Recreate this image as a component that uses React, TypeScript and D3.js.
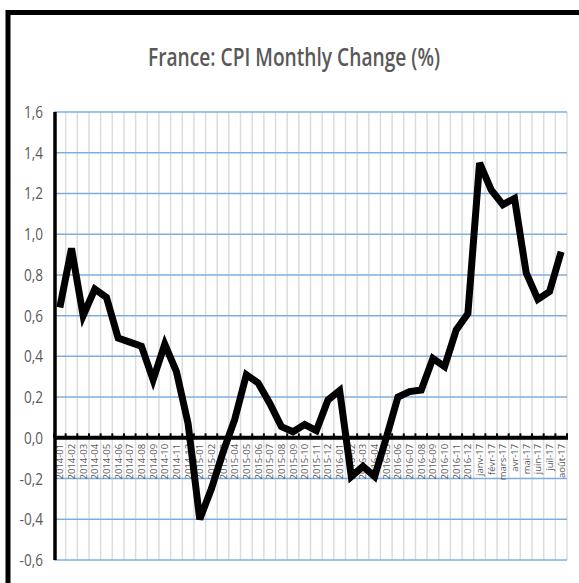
import React, { useEffect, useRef } from 'react';
import * as d3 from 'd3';

const months = [
  '2014-01', '2014-02', '2014-03', '2014-04', '2014-05', '2014-06', '2014-07', '2014-08', '2014-09', '2014-10', '2014-11', '2014-12',
  '2015-01', '2015-02', '2015-03', '2015-04', '2015-05', '2015-06', '2015-07', '2015-08', '2015-09', '2015-10', '2015-11', '2015-12',
  '2016-01', '2016-02', '2016-03', '2016-04', '2016-05', '2016-06', '2016-07', '2016-08', '2016-09', '2016-10', '2016-11', '2016-12',
  'janv-17', 'févr-17', 'mars-17', 'avr-17', 'mai-17', 'juin-17', 'juil-17', 'août-17',
];

const cpiChange = [
  0.64, 0.93, 0.6, 0.73, 0.69, 0.49, 0.47, 0.45, 0.285, 0.46, 0.325, 0.07,
  -0.4, -0.25, -0.07, 0.09, 0.31, 0.27, 0.17, 0.055, 0.03, 0.065, 0.035, 0.186,
  0.232, -0.19, -0.14, -0.19, 0.0, 0.2, 0.227, 0.235, 0.39, 0.35, 0.53, 0.61,
  1.35, 1.217, 1.145, 1.176, 0.81, 0.68, 0.718, 0.914,
];

const yTicks = [-0.6, -0.4, -0.2, 0, 0.2, 0.4, 0.6, 0.8, 1.0, 1.2, 1.4, 1.6];

const App = () => {
  const svgRef = useRef(null);

  useEffect(() => {
    const width = 579;
    const height = 583;
    const margin = { top: 112, right: 12, bottom: 23, left: 54 };

    const svg = d3.select(svgRef.current);
    svg.selectAll('*').remove();

    // frame, cut off on the right and bottom like the screenshot
    svg.append('rect')
      .attr('x', 8).attr('y', 12.5)
      .attr('width', width + 20).attr('height', height + 20)
      .attr('fill', '#fff').attr('stroke', '#000').attr('stroke-width', 5);

    svg.append('text')
      .attr('x', 294).attr('y', 66)
      .attr('text-anchor', 'middle')
      .attr('font-family', 'Open Sans, sans-serif')
      .attr('font-size', 26)
      .attr('font-weight', 600)
      .attr('fill', '#595959')
      .attr('textLength', 292)
      .attr('lengthAdjust', 'spacingAndGlyphs')
      .text('France: CPI Monthly Change (%)');

    const x = d3.scaleBand()
      .domain(months)
      .range([margin.left, width - margin.right]);

    const y = d3.scaleLinear()
      .domain([-0.6, 1.6])
      .range([height - margin.bottom, margin.top]);

    // vertical grey gridlines at category boundaries
    const bounds = months.map((m) => x(m)).concat([x.range()[1]]);
    svg.append('g')
      .selectAll('line')
      .data(bounds.slice(1))
      .enter()
      .append('line')
      .attr('x1', (d) => d).attr('x2', (d) => d)
      .attr('y1', y(1.6)).attr('y2', y(-0.6))
      .attr('stroke', '#dcdcdc').attr('stroke-width', 1.5);

    // horizontal blue gridlines
    svg.append('g')
      .selectAll('line')
      .data(yTicks.filter((t) => t !== 0))
      .enter()
      .append('line')
      .attr('x1', margin.left).attr('x2', width - margin.right)
      .attr('y1', (d) => y(d)).attr('y2', (d) => y(d))
      .attr('stroke', '#7eaee0').attr('stroke-width', 1.5);

    // y tick labels
    svg.append('g')
      .selectAll('text')
      .data(yTicks)
      .enter()
      .append('text')
      .attr('transform', (d) => `translate(43, ${y(d) + 6}) scale(0.8, 1)`)
      .attr('text-anchor', 'end')
      .attr('font-family', 'Open Sans, sans-serif')
      .attr('font-size', 17)
      .attr('fill', '#595959')
      .text((d) => d3.format('.1f')(d).replace('.', ',').replace('−', '-'));

    // x labels, rotated, just below the zero line
    svg.append('g')
      .selectAll('text')
      .data(months)
      .enter()
      .append('text')
      .attr('transform', (d) => `translate(${x(d) + x.bandwidth() / 2 + 3.5}, ${y(0) + 6}) rotate(-90)`)
      .attr('text-anchor', 'end')
      .attr('font-family', 'Open Sans, sans-serif')
      .attr('font-size', 9.5)
      .attr('fill', '#595959')
      .text((d) => d);

    // zero axis with upward ticks
    const zeroAxis = svg.append('g')
      .attr('transform', `translate(0, ${y(0)})`);
    zeroAxis.selectAll('line.tk')
      .data(bounds)
      .enter()
      .append('line')
      .attr('class', 'tk')
      .attr('x1', (d) => d).attr('x2', (d) => d)
      .attr('y1', 0).attr('y2', -4.5)
      .attr('stroke', '#000').attr('stroke-width', 2);
    zeroAxis.append('line')
      .attr('x1', margin.left).attr('x2', width - margin.right + 1)
      .attr('stroke', '#000').attr('stroke-width', 4);

    // y axis line
    svg.append('line')
      .attr('x1', margin.left + 1).attr('x2', margin.left + 1)
      .attr('y1', y(1.6)).attr('y2', y(-0.6))
      .attr('stroke', '#000').attr('stroke-width', 3.5);

    const line = d3.line<number>()
      .x((d, i) => x(months[i]) + x.bandwidth() / 2)
      .y((d) => y(d));

    svg.append('path')
      .datum(cpiChange)
      .attr('d', line)
      .attr('fill', 'none')
      .attr('stroke', '#000')
      .attr('stroke-width', 7)
      .attr('stroke-linejoin', 'miter');
  }, []);

  return (
    <svg
      ref={svgRef}
      width={579}
      height={583}
      style={{ position: 'fixed', left: 0, top: 0, background: '#fff' }}
    />
  );
};

export default App;
